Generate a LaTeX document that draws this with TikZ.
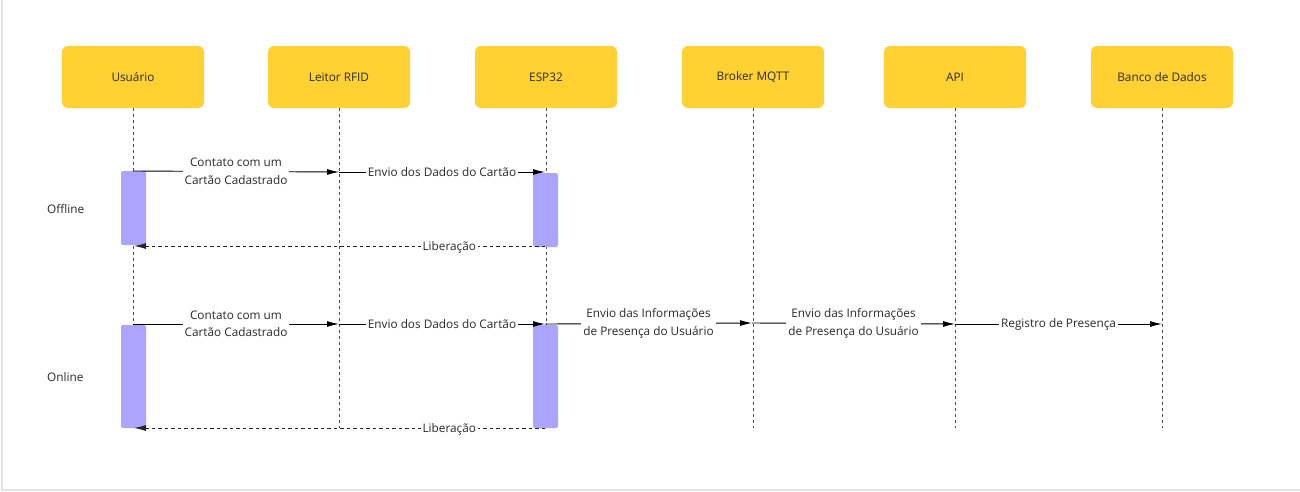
\documentclass[tikz,border=0pt]{standalone}
\usepackage{fontspec}
\setmainfont{Open Sans}
\usetikzlibrary{arrows.meta}
\definecolor{actorfill}{HTML}{FFD133}
\definecolor{barfill}{HTML}{ABA5FF}
\definecolor{txt}{HTML}{2A2A2A}
\definecolor{frame}{HTML}{E2E2E2}
\tikzset{
  actor/.style={rectangle, rounded corners=6pt, fill=actorfill, minimum width=142pt, minimum height=62pt, inner sep=0pt, text=txt, font=\fontsize{11.8}{14}\selectfont},
  lifeline/.style={draw=black!70, line width=0.9pt, dash pattern=on 3pt off 3pt},
  actbar/.style={fill=barfill, rounded corners=2pt},
  msg/.style={draw=black, line width=0.9pt, -{Latex[length=12pt,width=6pt]}},
  retmsg/.style={draw=black!85, line width=0.9pt, dash pattern=on 3.5pt off 3pt, -{Latex[length=12pt,width=6pt]}},
  lbl/.style={fill=white, text=txt, font=\fontsize{11.8}{17.5}\selectfont, align=center, inner sep=2pt},
  phase/.style={text=txt, font=\fontsize{11.8}{14}\selectfont, anchor=west, inner sep=0pt}
}
\begin{document}
\begin{tikzpicture}[x=1pt,y=-1pt]
\useasboundingbox (0,0) rectangle (1300,491);
\draw[frame, line width=1.2pt] (2,0) -- (2,490) -- (1300,490);
% actors
\node[actor] (usr) at (133,77) {Usuário};
\node[actor] (rfid) at (339,77) {Leitor RFID};
\node[actor] (esp) at (546,77) {ESP32};
\node[actor] (mqtt) at (753,77) {Broker MQTT};
\node[actor] (api) at (955,77) {API};
\node[actor] (db) at (1162,77) {Banco de Dados};
% lifeline ends
\coordinate (usrE) at (133,428);
\coordinate (rfidE) at (339,428);
\coordinate (espE) at (546,428);
\coordinate (mqttE) at (753,428);
\coordinate (apiE) at (955,428);
\coordinate (dbE) at (1162,428);
\draw[lifeline] (usr.south) -- (usrE);
\draw[lifeline] (rfid.south) -- (rfidE);
\draw[lifeline] (esp.south) -- (espE);
\draw[lifeline] (mqtt.south) -- (mqttE);
\draw[lifeline] (api.south) -- (apiE);
\draw[lifeline] (db.south) -- (dbE);
% activation bars
\path[actbar] (121,171) rectangle (146,245);
\path[actbar] (533,173) rectangle (558,247);
\path[actbar] (121,325) rectangle (146,428);
\path[actbar] (533,325) rectangle (558,428);
% phase labels
\node[phase] (off) at (47,209) {Offline};
\node[phase] (on) at (47,377) {Online};
% offline messages
\coordinate (u1) at (133,171);
\coordinate (r1) at (339,172);
\coordinate (e1) at (545,172);
\coordinate (e1r) at (545,246);
\coordinate (u1r) at (134,246);
\draw[msg] (u1) -- node[lbl]{Contato com um\\Cartão Cadastrado} (r1);
\draw[msg] (r1) -- node[lbl]{Envio dos Dados do Cartão} (e1);
\draw[retmsg] (e1r) -- node[lbl, pos=0.233, yshift=-1pt]{Liberação} (u1r);
% online messages
\coordinate (u2) at (133,324);
\coordinate (r2) at (339,324);
\coordinate (e2) at (545,324);
\coordinate (m2) at (752,323);
\coordinate (a2) at (955,324);
\coordinate (d2) at (1162,324);
\coordinate (e2r) at (545,428);
\coordinate (u2r) at (134,428);
\draw[msg] (u2) -- node[lbl]{Contato com um\\Cartão Cadastrado} (r2);
\draw[msg] (r2) -- node[lbl]{Envio dos Dados do Cartão} (e2);
\draw[msg] (e2) -- node[lbl]{Envio das Informações\\de Presença do Usuário} (m2);
\draw[msg] (m2) -- node[lbl]{Envio das Informações\\de Presença do Usuário} (a2);
\draw[msg] (a2) -- node[lbl]{Registro de Presença} (d2);
\draw[retmsg] (e2r) -- node[lbl, pos=0.233, yshift=-1pt]{Liberação} (u2r);
\end{tikzpicture}
\end{document}
